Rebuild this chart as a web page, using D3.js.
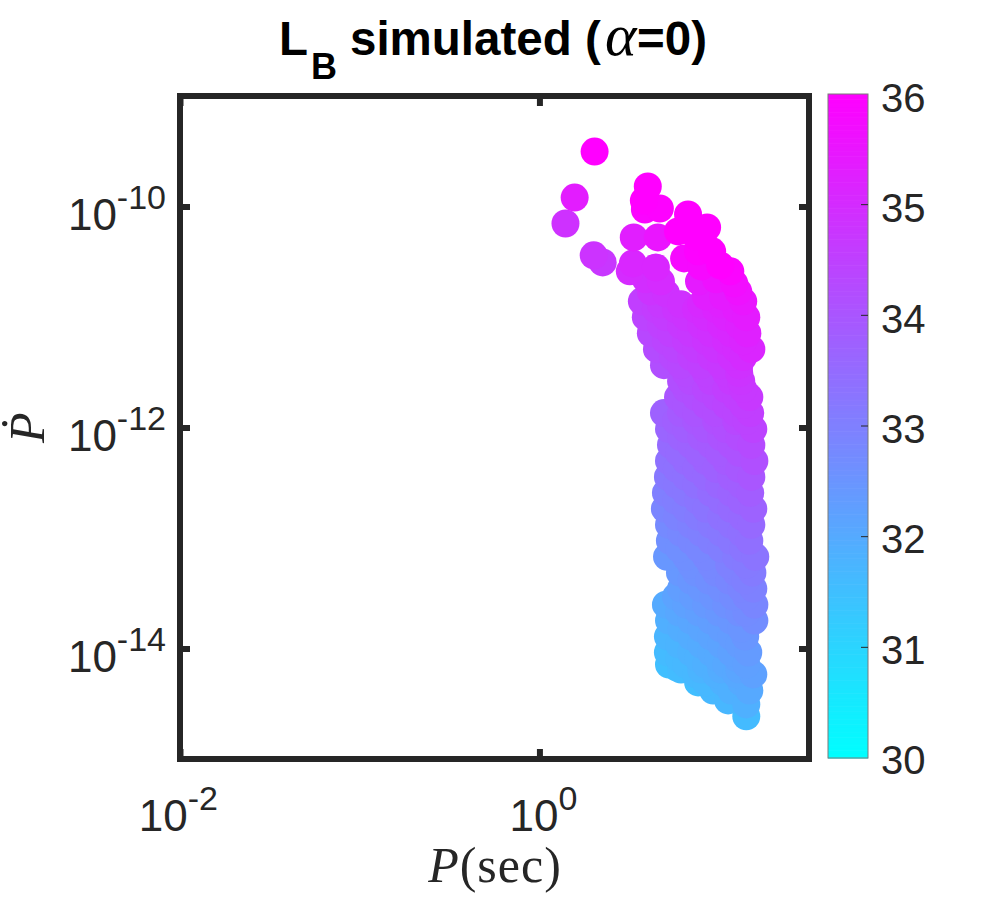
<!DOCTYPE html>
<html><head><meta charset="utf-8">
<script src="https://cdn.jsdelivr.net/npm/d3@7"></script>
<style>html,body{margin:0;background:#fff}svg{display:block}</style></head>
<body><div id="c"></div>
<script>
const titleMain = "simulated (";
const xTickExp = [-2, 0];
const yTickExp = [-10, -12, -14];
const cbTicks = [30, 31, 32, 33, 34, 35, 36];
const logPeriodA = [
.307,.196,.145,.302,.352,.603,.581,.587,.67,.827,.933,.525,.659,.771,.872,.961,.883,.805,1.006,.9,1.062,
.52,.503,.648,.592,.676,.62,.57,.704,.888,.983,1.084,1.106,.927,1.022,1.134,
.676,.788,.9,1.011,
.592,.704,.816,.927,1.039,1.151,
.62,.732,.844,.955,1.067,1.157,
.654,.76,.872,.983,1.095,1.179,
.693,.788,.9,1.011,1.112,
.788,.844,.955,1.067,1.123,
.771,.872,.983,1.095,1.168,
.693,.788,.872,.983,1.095,1.173,
.721,.816,.927,1.039,1.19,
.732,.844,.955,1.067,1.179,
.721,.816,.927,1.039,1.196,
.715,.816,.927,1.067,1.179,
.704,.816,.955,1.067,1.173,
.698,.816,.927,1.067,1.19,
.721,.844,.955,1.067,1.179,
.726,.844,.955,1.067,1.168,
.71,.816,.927,1.095,1.201,
.782,.872,.983,1.095,1.185,
.788,.9,1.011,1.123,1.19,
.704,.816,.927,1.039,1.196,
.721,.844,.955,1.067,1.196,
.715,.844,.955,1.067,1.145,
.715,.844,.955,1.067,1.162,
.721,.816,.927,1.039,1.151,
.765,.872,.983,1.095,1.19,
.883,.967,1.067,1.168,
1.05,1.151,
1.151];
const logPdotA = [
-9.503,-9.919,-10.154,-10.442,-10.506,-9.819,-9.946,-10.027,-10.018,-10.072,-10.19,-10.28,-10.28,-10.226,-10.271,-10.406,-10.406,-10.47,-10.533,-10.542,-10.587,
-10.515,-10.587,-10.551,-10.659,-10.677,-10.768,-10.858,-10.786,-10.677,-10.659,-10.695,-10.768,-10.813,-10.813,-10.858,
-10.885,-10.885,-10.885,-10.885,
-11.002,-11.002,-11.002,-11.002,-11.002,-11.002,
-11.147,-11.147,-11.147,-11.147,-11.147,-11.147,
-11.291,-11.291,-11.291,-11.291,-11.291,-11.291,
-11.436,-11.436,-11.436,-11.436,-11.436,
-11.58,-11.58,-11.58,-11.58,-11.58,
-11.725,-11.725,-11.725,-11.725,-11.725,
-11.869,-11.869,-11.869,-11.869,-11.869,-11.869,
-12.014,-12.014,-12.014,-12.014,-12.014,
-12.158,-12.158,-12.158,-12.158,-12.158,
-12.303,-12.303,-12.303,-12.303,-12.303,
-12.447,-12.447,-12.447,-12.447,-12.447,
-12.592,-12.592,-12.592,-12.592,-12.592,
-12.736,-12.736,-12.736,-12.736,-12.736,
-12.881,-12.881,-12.881,-12.881,-12.881,
-13.025,-13.025,-13.025,-13.025,-13.025,
-13.17,-13.17,-13.17,-13.17,-13.17,
-13.314,-13.314,-13.314,-13.314,-13.314,
-13.459,-13.459,-13.459,-13.459,-13.459,
-13.603,-13.603,-13.603,-13.603,-13.603,
-13.747,-13.747,-13.747,-13.747,-13.747,
-13.892,-13.892,-13.892,-13.892,-13.892,
-14.036,-14.036,-14.036,-14.036,-14.036,
-14.145,-14.145,-14.145,-14.145,-14.145,
-14.172,-14.235,-14.235,-14.235,-14.235,
-14.307,-14.38,-14.38,-14.38,
-14.47,-14.506,
-14.614];
const logLBA = [
36,35.35,34.85,34.8,34.7,36,36,35.9,35.95,36,36,35.3,35.5,36,36,36,35.95,35.8,36,35.8,35.9,
35.1,35,35.1,34.95,35,34.8,34.55,34.85,35.4,35.6,35.7,35.6,35.3,35.4,35.48,
34.68,34.87,35.06,35.25,
34.42,34.61,34.8,34.99,35.18,35.37,
34.33,34.52,34.7,34.89,35.09,35.24,
34.23,34.41,34.6,34.79,34.98,35.13,
34.16,34.32,34.51,34.7,34.87,
34.17,34.27,34.46,34.65,34.74,
34,34.17,34.36,34.55,34.68,
33.72,33.88,34.02,34.21,34.4,34.54,
33.63,33.79,33.98,34.17,34.42,
33.5,33.69,33.88,34.07,34.26,
33.34,33.5,33.69,33.88,34.14,
33.18,33.35,33.54,33.78,33.97,
33.02,33.21,33.45,33.64,33.82,
32.87,33.07,33.26,33.5,33.7,
32.76,32.97,33.16,33.35,33.54,
32.63,32.83,33.02,33.21,33.38,
32.45,32.63,32.82,33.1,33.28,
32.43,32.58,32.77,32.96,33.11,
32.29,32.48,32.67,32.86,32.97,
32.01,32.2,32.39,32.58,32.84,
31.89,32.1,32.29,32.48,32.69,
31.74,31.96,32.15,32.34,32.47,
31.6,31.82,32.01,32.2,32.36,
31.5,31.66,31.85,32.04,32.23,
31.47,31.66,31.85,32.04,32.2,
31.53,31.67,31.85,32.02,
31.7,31.87,
31.6];
const logPeriodB = [
.648,.76,.872,.983,1.095,
.676,.788,.9,1.011,1.112,
.704,.816,.927,1.039,1.134,
.743,.844,.955,1.067,1.134,
.816,.927,1.039,1.112,
.816,.927,1.039,1.134,
.816,.927,1.039,1.134,
.76,.872,.983,1.095,1.151,
.788,.9,1.011,1.112,
.777,.888,1,1.112,
.765,.872,.983,1.112,
.765,.872,1,1.123,
.76,.883,1.011,1.123,
.765,.883,1.011,1.129,
.788,.9,1.011,1.123,
.777,.888,1.011,1.134,
.844,.955,1.056,1.151,
.844,.944,1.056,1.145,
.76,.855,.967,1.078,1.151,
.777,.888,1,1.112,1.151,
.788,.9,1.011,1.123,
.777,.9,1.011,1.112,
.777,.883,.994,1.101,
.788,.9,1.011,1.112,
.927,1.022,1.123];
const logPdotB = [
-10.93,-10.93,-10.93,-10.93,-10.93,
-11.075,-11.075,-11.075,-11.075,-11.075,
-11.219,-11.219,-11.219,-11.219,-11.219,
-11.363,-11.363,-11.363,-11.363,-11.363,
-11.508,-11.508,-11.508,-11.508,
-11.652,-11.652,-11.652,-11.652,
-11.797,-11.797,-11.797,-11.797,
-11.941,-11.941,-11.941,-11.941,-11.941,
-12.086,-12.086,-12.086,-12.086,
-12.23,-12.23,-12.23,-12.23,
-12.375,-12.375,-12.375,-12.375,
-12.519,-12.519,-12.519,-12.519,
-12.664,-12.664,-12.664,-12.664,
-12.808,-12.808,-12.808,-12.808,
-12.953,-12.953,-12.953,-12.953,
-13.097,-13.097,-13.097,-13.097,
-13.242,-13.242,-13.242,-13.242,
-13.386,-13.386,-13.386,-13.386,
-13.531,-13.531,-13.531,-13.531,-13.531,
-13.675,-13.675,-13.675,-13.675,-13.675,
-13.819,-13.819,-13.819,-13.819,
-13.964,-13.964,-13.964,-13.964,
-14.09,-14.09,-14.09,-14.09,
-14.19,-14.19,-14.19,-14.19,
-14.307,-14.307,-14.307];
const logLBB = [
34.58,34.77,34.96,35.15,35.34,
34.49,34.68,34.87,35.06,35.23,
34.4,34.59,34.78,34.97,35.13,
34.31,34.49,34.68,34.87,34.98,
34.29,34.48,34.67,34.79,
34.15,34.34,34.53,34.69,
34.01,34.2,34.39,34.55,
33.76,33.95,34.14,34.33,34.43,
33.67,33.86,34.05,34.22,
33.5,33.69,33.88,34.07,
33.34,33.52,33.71,33.93,
33.19,33.37,33.59,33.8,
33.04,33.25,33.47,33.66,
32.91,33.11,33.33,33.53,
32.8,32.99,33.18,33.37,
32.64,32.83,33.04,33.25,
32.6,32.79,32.97,33.13,
32.46,32.64,32.83,32.98,
32.17,32.33,32.52,32.71,32.84,
32.06,32.25,32.44,32.63,32.7,
31.93,32.12,32.31,32.5,
31.77,31.98,32.17,32.34,
31.64,31.82,32.01,32.19,
31.57,31.76,31.95,32.12,
31.68,31.84,32.01];
const logPeriod = logPeriodA.concat(logPeriodB);
const logPdot = logPdotA.concat(logPdotB);
const logLB = logLBA.concat(logLBB);

const W = 994, H = 899, ink = "#262626", sans = "'Liberation Sans',Arial,sans-serif", serif = "'Liberation Serif',serif";
const L = 180, R = 809, T = 96, B = 759;
const svg = d3.select("#c").append("svg").attr("width", W).attr("height", H);
const x = d3.scaleLog().domain([1e-2, Math.pow(10, 1.5)]).range([L, R]);
const y = d3.scaleLog().domain([1e-15, 1e-9]).range([B, T]);
const color = d3.scaleLinear().domain([30, 36]).range(["#00ffff", "#ff00ff"]).clamp(true);

// scatter (ascending L, so the brighter points lie over the darker)
const order = d3.range(logPeriod.length).sort((a, b) => logLB[a] - logLB[b]);
svg.append("g").selectAll("circle").data(order).join("circle")
  .attr("cx", i => x(Math.pow(10, logPeriod[i])))
  .attr("cy", i => y(Math.pow(10, logPdot[i])))
  .attr("r", 14)
  .attr("fill", i => color(logLB[i]));

// axes
const xv = xTickExp.map(e => Math.pow(10, e)), yv = yTickExp.map(e => Math.pow(10, e));
const styleAxis = g => {
  g.select(".domain").remove();
  g.selectAll("line").attr("stroke", ink).attr("stroke-width", 6);
  g.selectAll("text").remove();
};
svg.append("g").attr("transform", `translate(0,${B})`).call(d3.axisBottom(x).tickValues(xv).tickSize(-10)).call(styleAxis);
svg.append("g").attr("transform", `translate(0,${T})`).call(d3.axisTop(x).tickValues(xv).tickSize(-10)).call(styleAxis);
svg.append("g").attr("transform", `translate(${L},0)`).call(d3.axisLeft(y).tickValues(yv).tickSize(-10)).call(styleAxis);
svg.append("g").attr("transform", `translate(${R},0)`).call(d3.axisRight(y).tickValues(yv).tickSize(-10)).call(styleAxis);
svg.append("rect").attr("x", L).attr("y", T).attr("width", R - L).attr("height", B - T)
  .attr("fill", "none").attr("stroke", ink).attr("stroke-width", 6);

// log tick labels
function powLabel(px, py, exp) {
  const t = svg.append("text").attr("x", px).attr("y", py).attr("text-anchor", "end")
    .attr("font-family", sans).attr("fill", ink).attr("font-size", 44);
  t.append("tspan").text("10");
  t.append("tspan").attr("font-size", 34).attr("dy", -21).text(exp);
}
xTickExp.forEach(e => powLabel(x(Math.pow(10, e)) + 38, 831, String(e)));
yTickExp.forEach(e => powLabel(166, y(Math.pow(10, e)) + 23, String(e)));

// colorbar
const cbX = 828, cbW = 40;
const cy = d3.scaleLinear().domain([30, 36]).range([B - 1, T - 2]);
const cyText = d3.scaleLinear().domain([30, 36]).range([774, 112]);
const cbLevels = d3.range(30, 36, 6 / 256);
svg.append("g").selectAll("rect").data(cbLevels).join("rect")
  .attr("x", cbX).attr("width", cbW)
  .attr("y", d => cy(d + 6 / 256)).attr("height", d => cy(d) - cy(d + 6 / 256) + 0.6)
  .attr("fill", d => color(d));
svg.append("rect").attr("x", cbX).attr("y", cy(36)).attr("width", cbW).attr("height", cy(30) - cy(36))
  .attr("fill", "none").attr("stroke", "#7a7a7a").attr("stroke-width", 1);
svg.append("g").selectAll("line").data(cbTicks.slice(1, -1)).join("line")
  .attr("x1", cbX + cbW - 7).attr("x2", cbX + cbW).attr("y1", d => cy(d)).attr("y2", d => cy(d))
  .attr("stroke", ink).attr("stroke-width", 1);
svg.append("g").selectAll("text").data(cbTicks).join("text")
  .attr("x", 881).attr("y", d => cyText(d)).attr("font-family", sans).attr("font-size", 40).attr("fill", ink)
  .text(d => d);

// title
const title = svg.append("text").attr("y", 55).attr("font-family", sans)
  .attr("font-weight", "bold").attr("font-size", 47.5).attr("fill", "#000");
title.append("tspan").attr("x", 279).text("L");
title.append("tspan").attr("x", 311).attr("font-size", 36).attr("dy", 24).text("B");
title.append("tspan").attr("x", 350).attr("dy", -24).text(titleMain);
title.append("tspan").attr("x", 605).attr("font-family", serif).attr("font-style", "italic").attr("font-weight", "normal").attr("font-size", 60).text("α");
title.append("tspan").attr("x", 637).text("=0)");

// axis labels
const xl = svg.append("text").attr("x", 495).attr("y", 882).attr("text-anchor", "middle")
  .attr("font-family", serif).attr("font-size", 50).attr("letter-spacing", 1).attr("fill", ink);
xl.append("tspan").attr("font-style", "italic").text("P");
xl.append("tspan").text("(sec)");
svg.append("text").attr("transform", "translate(44,443) rotate(-90)")
  .attr("font-family", serif).attr("font-style", "italic").attr("font-size", 50).attr("fill", ink).text("Ṗ");
</script></body></html>
